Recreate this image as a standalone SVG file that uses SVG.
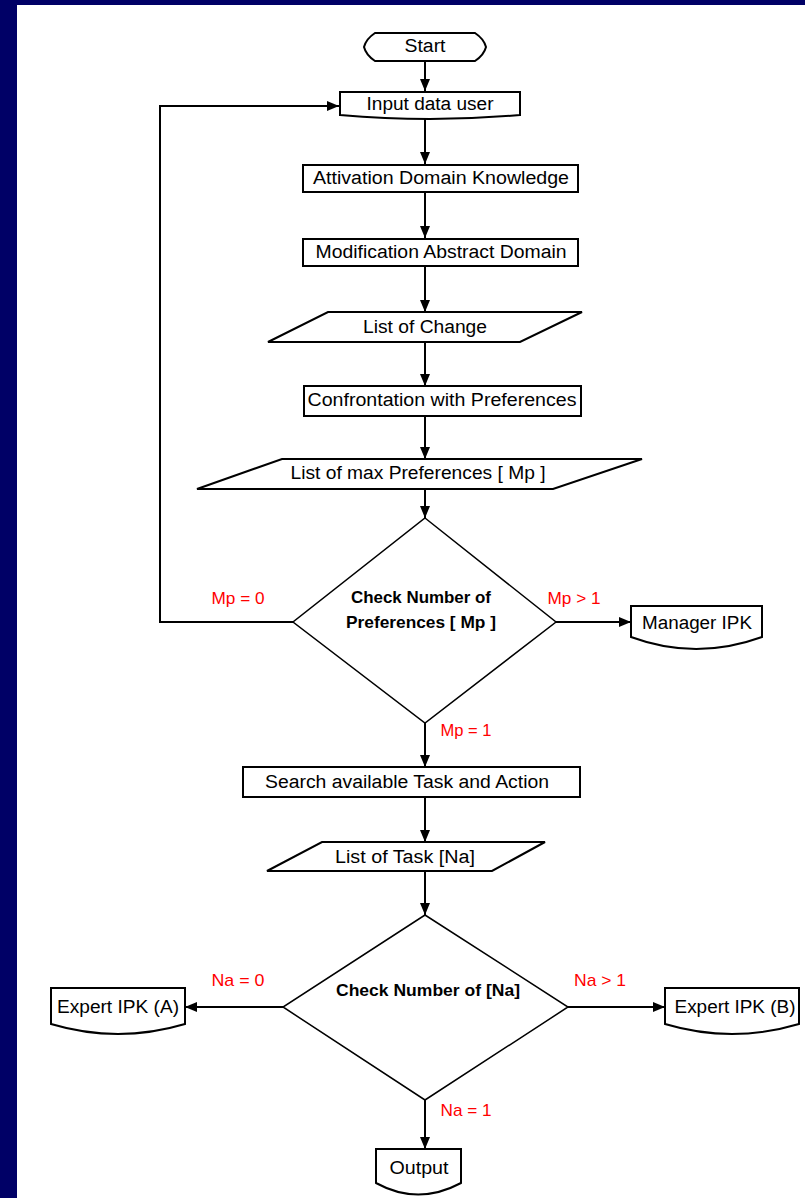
<svg xmlns="http://www.w3.org/2000/svg" width="805" height="1198" viewBox="0 0 805 1198">
<defs>
<marker id="ah" markerWidth="12" markerHeight="12" viewBox="0 0 12 12" refX="12" refY="6" orient="auto" markerUnits="userSpaceOnUse">
<path d="M0,1 L12,6 L0,11 Z" fill="#000"/>
</marker>
<style>
.bg{fill:#000066}
.shape{fill:#fff;stroke:#000;stroke-width:2}
.dia{fill:#fff;stroke:#000;stroke-width:1.5}
.conn{fill:none;stroke:#000;stroke-width:2;marker-end:url(#ah)}
.t{font-family:"Liberation Sans",Arial,sans-serif;font-size:18px;fill:#000;text-anchor:middle;dominant-baseline:central}
.b{font-family:"Liberation Sans",Arial,sans-serif;font-size:17px;font-weight:bold;fill:#000;text-anchor:middle;dominant-baseline:central}
.r{font-family:"Liberation Sans",Arial,sans-serif;font-size:17px;fill:#ff0000;text-anchor:middle;dominant-baseline:central}
</style>
</defs>
<rect x="0" y="0" width="805" height="1198" fill="#fff"/>
<rect class="bg" x="0" y="0" width="805" height="5"/>
<rect class="bg" x="0" y="0" width="17" height="1198"/>

<g id="connectors">
<line class="conn" x1="425" y1="62" x2="425" y2="91"/>
<line class="conn" x1="425" y1="119" x2="425" y2="164"/>
<line class="conn" x1="425" y1="192" x2="425" y2="238"/>
<line class="conn" x1="425" y1="266" x2="425" y2="312"/>
<line class="conn" x1="425" y1="342" x2="425" y2="386"/>
<line class="conn" x1="425" y1="416" x2="425" y2="459"/>
<line class="conn" x1="425" y1="489" x2="425" y2="518"/>
<polyline class="conn" points="293,622 160,622 160,106 339,106"/>
<line class="conn" x1="556" y1="622" x2="631" y2="622"/>
<line class="conn" x1="425" y1="723" x2="425" y2="767"/>
<line class="conn" x1="425" y1="797" x2="425" y2="842"/>
<line class="conn" x1="425" y1="871" x2="425" y2="915"/>
<line class="conn" x1="283" y1="1007" x2="185" y2="1007"/>
<line class="conn" x1="568" y1="1007" x2="665" y2="1007"/>
<line class="conn" x1="425" y1="1100" x2="425" y2="1149"/>
</g>

<g id="start">
<path class="shape" d="M375,33 H475 Q484,39 486,47 Q484,55 475,61 H375 Q366,55 364,47 Q366,39 375,33 Z"/>
<text class="t" x="425" y="46" textLength="41" lengthAdjust="spacingAndGlyphs">Start</text>
</g>
<g id="input">
<path class="shape" d="M340,92 H520 V115 Q430,123 340,115 Z"/>
<text class="t" x="430" y="104" textLength="127" lengthAdjust="spacingAndGlyphs">Input data user</text>
</g>
<g id="attivation">
<rect class="shape" x="303" y="165" width="275" height="27"/>
<text class="t" x="441" y="178" textLength="256" lengthAdjust="spacingAndGlyphs">Attivation Domain Knowledge</text>
</g>
<g id="modification">
<rect class="shape" x="303" y="239" width="275" height="27"/>
<text class="t" x="441" y="252" textLength="251" lengthAdjust="spacingAndGlyphs">Modification Abstract Domain</text>
</g>
<g id="listchange">
<polygon class="shape" points="328,312 582,312 520,342 268,342"/>
<text class="t" x="425" y="327" textLength="124" lengthAdjust="spacingAndGlyphs">List of Change</text>
</g>
<g id="confrontation">
<rect class="shape" x="304" y="386" width="277" height="30"/>
<text class="t" x="442" y="400" textLength="269" lengthAdjust="spacingAndGlyphs">Confrontation with Preferences</text>
</g>
<g id="listmax">
<polygon class="shape" points="282,459 642,459 553,489 197,489"/>
<text class="t" x="418" y="473" textLength="255" lengthAdjust="spacingAndGlyphs">List of max Preferences [ Mp ]</text>
</g>
<g id="decision1">
<polygon class="dia" points="425,518 556,622 425,723 293,622"/>
<text class="b" x="421" y="597" textLength="140" lengthAdjust="spacingAndGlyphs">Check Number of</text>
<text class="b" x="421" y="622" textLength="150" lengthAdjust="spacingAndGlyphs">Preferences [ Mp ]</text>
</g>
<g id="manager">
<path class="shape" d="M631,606 H762 V637 Q696,661 631,637 Z"/>
<text class="t" x="697" y="623" textLength="110" lengthAdjust="spacingAndGlyphs">Manager IPK</text>
</g>
<g id="search">
<rect class="shape" x="243" y="767" width="337" height="30"/>
<text class="t" x="407" y="782" textLength="284" lengthAdjust="spacingAndGlyphs">Search available Task and Action</text>
</g>
<g id="listtask">
<polygon class="shape" points="322,842 545,842 492,871 267,871"/>
<text class="t" x="405" y="857" textLength="140" lengthAdjust="spacingAndGlyphs">List of Task [Na]</text>
</g>
<g id="decision2">
<polygon class="dia" points="425,915 568,1007 425,1100 283,1007"/>
<text class="b" x="428" y="990" textLength="184" lengthAdjust="spacingAndGlyphs">Check Number of [Na]</text>
</g>
<g id="expertA">
<path class="shape" d="M51,988 H185 V1024 Q118,1044 51,1024 Z"/>
<text class="t" x="118" y="1007" textLength="122" lengthAdjust="spacingAndGlyphs">Expert IPK (A)</text>
</g>
<g id="expertB">
<path class="shape" d="M665,988 H799 V1024 Q732,1044 665,1024 Z"/>
<text class="t" x="735" y="1007" textLength="121" lengthAdjust="spacingAndGlyphs">Expert IPK (B)</text>
</g>
<g id="output">
<path class="shape" d="M376,1149 H461 V1183 Q418,1206 376,1183 Z"/>
<text class="t" x="419" y="1168" textLength="59" lengthAdjust="spacingAndGlyphs">Output</text>
</g>

<g id="labels">
<text class="r" x="238" y="598" textLength="53" lengthAdjust="spacingAndGlyphs">Mp = 0</text>
<text class="r" x="574" y="598" textLength="53" lengthAdjust="spacingAndGlyphs">Mp &gt; 1</text>
<text class="r" x="466" y="730" textLength="51" lengthAdjust="spacingAndGlyphs">Mp = 1</text>
<text class="r" x="238" y="980" textLength="53" lengthAdjust="spacingAndGlyphs">Na = 0</text>
<text class="r" x="600" y="980" textLength="52" lengthAdjust="spacingAndGlyphs">Na &gt; 1</text>
<text class="r" x="466" y="1110" textLength="51" lengthAdjust="spacingAndGlyphs">Na = 1</text>
</g>
</svg>
